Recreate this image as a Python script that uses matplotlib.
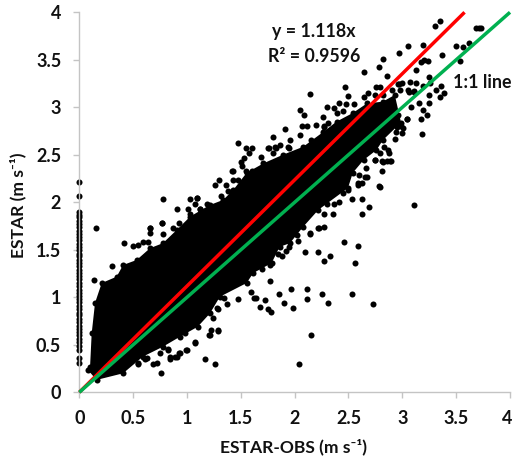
import matplotlib
matplotlib.use('Agg')
import matplotlib.pyplot as plt
from matplotlib.transforms import ScaledTranslation

plt.rcParams['font.family'] = ['Lato', 'DejaVu Sans']

# outline of the saturated part of the cloud, where single dots cannot be read
core_x = [0.08, 0.10, 0.115, 0.146, 0.208, 0.347, 0.407, 0.533, 0.657, 0.777, 0.904, 1.03, 1.21, 1.336, 1.43,
          1.554, 1.71, 1.89, 2.08, 2.265, 2.39, 2.54, 2.67, 2.82, 2.93, 2.99, 2.947, 2.82, 2.76, 2.64,
          2.54, 2.495, 2.22, 2.08, 1.956, 1.86, 1.786, 1.615, 1.554, 1.306, 1.213, 1.10, 0.935, 0.777,
          0.59, 0.407, 0.16]
core_y = [0.235, 0.27, 0.62, 0.94, 1.15, 1.217, 1.34, 1.393, 1.517, 1.57, 1.708, 1.85, 1.97, 2.025, 2.13,
          2.31, 2.41, 2.50, 2.585, 2.74, 2.85, 2.94, 3.04, 3.06, 3.13, 2.83, 2.795, 2.655, 2.55, 2.445,
          2.31, 2.15, 1.92, 1.743, 1.57, 1.53, 1.36, 1.255, 1.15, 1.006, 0.83, 0.69, 0.585, 0.48,
          0.375, 0.20, 0.13]

# dots with ESTAR-OBS = 0
zero_y = [2.21, 2.07, 1.90, 1.87, 1.84, 1.80, 1.77, 1.74, 1.70, 1.67, 1.63, 1.60, 1.56, 1.53, 1.50, 1.46,
          1.43, 1.39, 1.36, 1.33, 1.29, 1.26, 1.22, 1.19, 1.15, 1.12, 1.08, 1.05, 1.01, 0.98, 0.95, 0.91,
          0.88, 0.84, 0.81, 0.77, 0.74, 0.70, 0.67, 0.63, 0.60, 0.56, 0.53, 0.49, 0.445, 0.36, 0.305]

# single dots around the cloud
obs_x = [1.477, 1.545, 1.60, 1.58, 1.53, 1.50, 1.51, 1.415, 1.43, 1.55, 1.60, 1.43, 1.477, 1.30, 1.257, 1.36,
         1.384, 0.78, 1.03, 1.09, 1.07, 1.01, 1.12, 0.91, 1.03, 0.765, 0.653, 0.155, 0.87, 0.93,
         3.35, 3.30, 3.684, 3.71, 3.73, 3.62, 3.567, 3.50, 3.365, 3.54, 3.05, 2.966, 3.195, 2.817, 2.78,
         2.64, 2.857, 3.127, 3.17, 3.20, 3.24, 3.245, 2.97, 3.0, 3.07, 3.127, 3.19, 3.06, 3.11, 3.26,
         3.31, 3.36, 3.39, 3.35, 3.25, 3.25, 3.158, 3.19, 3.17, 3.23, 3.04, 3.18, 2.465, 2.145, 2.50,
         2.755, 2.79, 2.677, 2.64, 2.415, 2.30, 2.05, 2.09, 2.37, 2.477, 2.555, 1.91, 2.115, 2.2, 2.275,
         2.26, 1.80, 2.05, 1.96, 1.765, 1.83, 1.935, 1.69,
         3.0, 2.94, 2.99, 2.86, 2.88, 2.83, 2.81, 2.895, 2.86, 2.81, 2.75, 2.65, 2.66, 2.59, 2.79, 2.625,
         2.53, 2.415, 2.37, 2.27, 2.36, 2.63, 2.69, 3.108, 2.27, 2.23,
         2.46, 2.59, 2.10, 2.22, 2.33, 2.27, 2.56, 1.88, 1.92, 1.95, 2.03, 2.14, 1.77, 1.77, 1.857, 1.97,
         2.115, 2.25, 2.535, 2.115, 1.904, 2.31, 2.73, 1.72, 1.64, 1.68, 1.75, 1.777, 1.987, 2.15, 2.037,
         0.418, 0.306, 0.136, 0.50, 0.548, 0.594, 0.656, 0.774,
         0.755, 0.687, 0.718, 0.61, 0.542, 0.99, 0.98, 0.842, 0.889, 0.926, 0.827, 1.164, 1.26, 1.285,
         1.207, 1.22, 1.074, 1.477, 1.59, 1.625, 1.37, 1.344, 1.29, 1.245]
est_y = [2.62, 2.57, 2.57, 2.52, 2.47, 2.42, 2.38, 2.33, 2.33, 2.33, 2.33, 2.23, 2.23, 2.23, 2.18, 2.18,
         2.12, 2.03, 2.03, 2.05, 1.98, 1.93, 1.93, 1.93, 1.88, 1.78, 1.73, 1.73, 1.73, 1.78,
         3.905, 3.856, 3.83, 3.83, 3.83, 3.68, 3.63, 3.645, 3.55, 3.49, 3.65, 3.575, 3.656, 3.505, 3.42,
         3.37, 3.33, 3.39, 3.48, 3.50, 3.49, 3.32, 3.25, 3.26, 3.27, 3.26, 3.22, 3.165, 3.165, 3.26,
         3.18, 3.22, 3.15, 3.105, 3.13, 3.04, 3.04, 2.97, 2.88, 2.92, 2.88, 2.72, 3.21, 3.137, 3.12,
         3.21, 3.21, 3.147, 3.11, 3.04, 3.0, 2.97, 2.92, 2.99, 3.035, 3.035, 2.77, 2.80, 2.815, 2.80,
         2.90, 2.69, 2.71, 2.66, 2.57, 2.575, 2.585, 2.48,
         2.73, 2.74, 2.80, 2.78, 2.515, 2.585, 2.43, 2.43, 2.43, 2.33, 2.44, 2.27, 2.36, 2.20, 2.165, 2.03,
         2.03, 2.0, 1.98, 1.88, 1.88, 1.88, 1.95, 1.975, 1.745, 1.73,
         1.58, 1.537, 1.48, 1.48, 1.44, 1.38, 1.36, 1.435, 1.49, 1.53, 1.59, 1.67, 1.34, 1.175, 1.04, 1.09,
         1.085, 1.04, 1.04, 0.98, 0.944, 0.944, 0.933, 0.97, 0.99, 0.895, 0.875, 0.845, 0.89, 0.607, 0.298,
         1.57, 1.333, 1.18, 1.54, 1.55, 1.586, 1.68, 1.67,
         0.2, 0.298, 0.312, 0.347, 0.298, 0.45, 0.62, 0.368, 0.375, 0.41, 0.453, 0.347, 0.298, 0.65,
         0.6, 0.656, 0.533, 0.98, 1.06, 0.99, 0.93, 0.99, 0.877, 0.78]

# more dots hugging the edge of the cloud
edge_x = [0.656, 0.765, 0.64, 0.997, 1.074, 1.213, 1.29, 1.276, 0.827, 0.842, 0.904, 0.935, 0.75, 0.626, 0.548,
          1.755, 1.815, 1.86, 1.95, 1.8, 2.15, 2.2, 1.096, 1.12, 1.19, 1.32,
          2.22, 2.145, 2.07, 2.27, 2.31, 2.39, 2.45, 2.53, 2.6, 2.746, 2.82, 2.885, 2.96, 2.98, 3.055, 3.11,
          2.9, 2.85, 2.79, 2.87, 2.96, 3.04, 3.08, 3.01, 2.93, 2.87, 2.885, 2.82, 2.746, 2.79, 2.67, 2.6,
          2.63, 2.59, 2.78, 2.45, 2.5, 1.7, 1.85, 2.02, 2.3, 2.44]
edge_y = [1.726, 1.78, 1.585, 0.445, 0.517, 0.60, 0.656, 0.887, 0.445, 0.347, 0.375, 0.417, 0.41, 0.358, 0.305,
          2.57, 2.585, 2.6, 2.57, 2.52, 2.66, 2.65, 2.05, 1.93, 1.98, 2.07,
          1.726, 1.68, 2.8, 2.79, 2.83, 2.94, 2.96, 2.90, 2.93, 3.13, 3.13, 3.06, 3.25, 3.18, 3.18, 3.17,
          3.18, 3.04, 2.97, 2.94, 2.92, 2.88, 3.0, 2.78, 2.67, 2.55, 2.43, 2.42, 2.445, 2.52, 2.27, 2.29,
          2.2, 2.18, 2.17, 2.1, 2.13, 1.3, 1.46, 1.66, 1.98, 2.22]

fit_x = [0, 3.578]
fit_y = [0, 4]
one_x = [0, 4]
one_y = [0, 4]
ticks = [0, 0.5, 1, 1.5, 2, 2.5, 3, 3.5, 4]
tick_labels = ['0', '0.5', '1', '1.5', '2', '2.5', '3', '3.5', '4']

fig = plt.figure(figsize=(5.13, 4.61), dpi=100)
ax = fig.add_axes([79.3 / 513, (461 - 392.3) / 461, 430.7 / 513, 380 / 461])

# dots
ax.fill(core_x, core_y, color='black', lw=0, zorder=2)
ax.scatter(core_x, core_y, s=19, color='black', lw=0, zorder=2, clip_on=False)
ax.scatter(obs_x, est_y, s=19, color='black', lw=0, zorder=2, clip_on=False)
ax.scatter(edge_x, edge_y, s=19, color='black', lw=0, zorder=2, clip_on=False)
ax.scatter([0] * len(zero_y), zero_y, s=19, color='black', lw=0, zorder=2, clip_on=False)

# lines
ax.plot(fit_x, fit_y, color='#ff0000', lw=2.5, zorder=3, solid_capstyle='butt', clip_on=False)
ax.plot(one_x, one_y, color='#00b050', lw=2.5, zorder=4, solid_capstyle='butt', clip_on=False)

ax.set_xlim(0, 4)
ax.set_ylim(0, 4)
ax.set_xticks(ticks)
ax.set_xticklabels(tick_labels)
ax.set_yticks(ticks)
ax.set_yticklabels(tick_labels)
ax.tick_params(length=4.5, width=1, color='#c4c4c4', labelsize=13, pad=8.5, labelcolor='#111111')
for lab in ax.get_xticklabels() + ax.get_yticklabels():
    lab.set_fontweight('bold')
# the last x label sits right at the figure edge, pull it in a little
last = ax.get_xticklabels()[-1]
last.set_transform(last.get_transform() + ScaledTranslation(-2.5 / 100, 0, fig.dpi_scale_trans))
for side in ['top', 'right']:
    ax.spines[side].set_visible(False)
for side in ['left', 'bottom']:
    ax.spines[side].set_color('#c4c4c4')
    ax.spines[side].set_linewidth(1)

fig.text(294 / 513, 1 - 447 / 461, 'ESTAR-OBS (m s⁻¹)', fontsize=12.6, fontweight='bold',
         ha='center', va='center', color='#111111')
fig.text(18 / 513, 1 - 205 / 461, 'ESTAR (m s⁻¹)', fontsize=12.6, fontweight='bold',
         ha='center', va='center', rotation=90, color='#111111')

fig.text(314 / 513, 1 - 32 / 461, 'y = 1.118x', fontsize=12.8, fontweight='bold', ha='center', va='center', color='#111111')
fig.text(314 / 513, 1 - 56 / 461, 'R² = 0.9596', fontsize=12.8, fontweight='bold', ha='center', va='center', color='#111111')
fig.text(453 / 513, 1 - 83 / 461, '1:1 line', fontsize=12.8, fontweight='bold', ha='left', va='center', color='#111111')

fig.savefig('out.png', dpi=100)
